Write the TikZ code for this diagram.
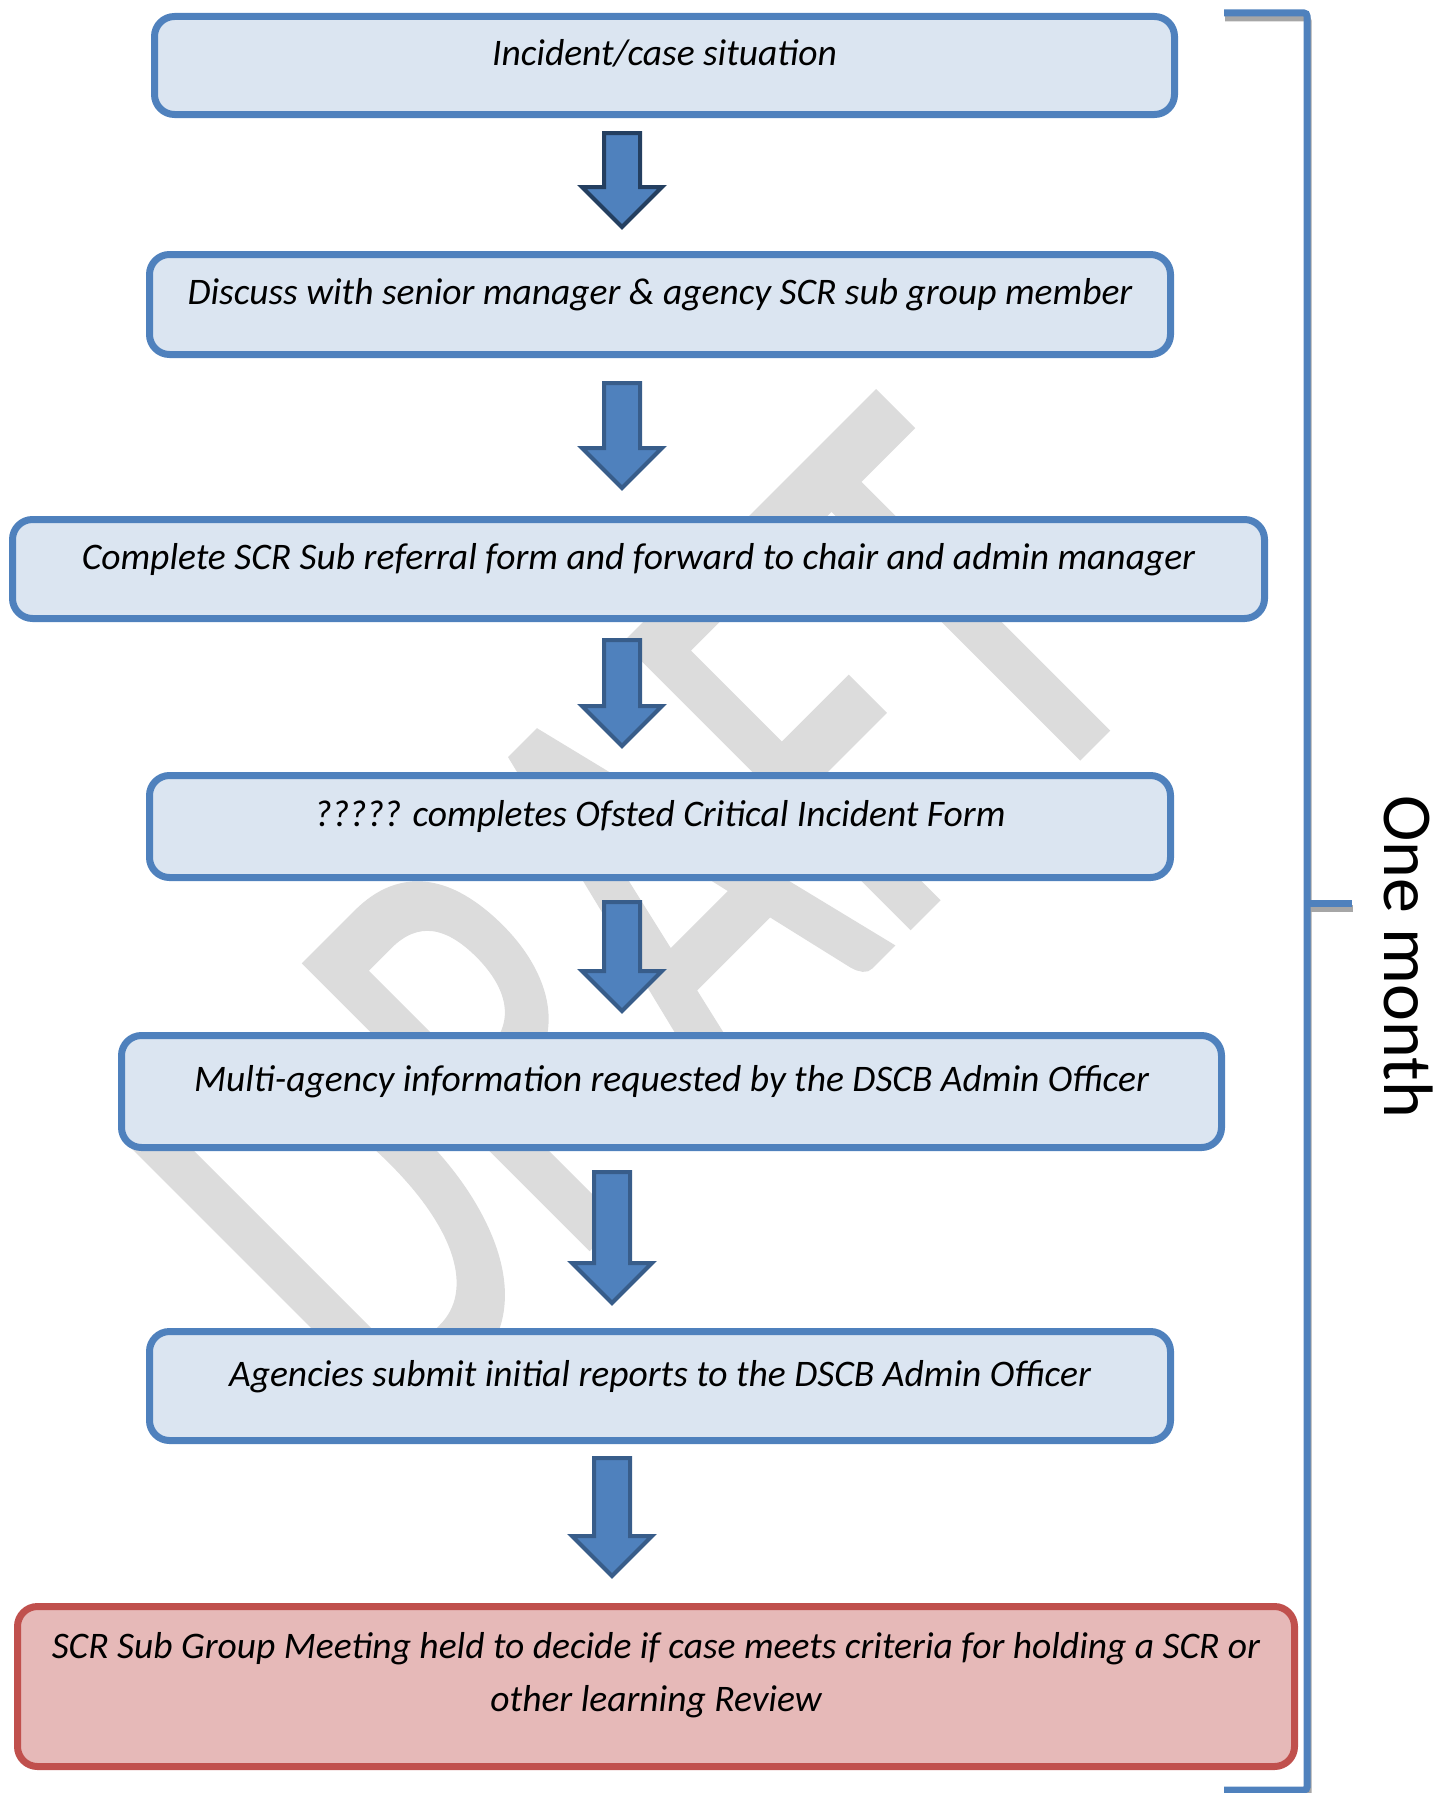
\documentclass[tikz,border=0pt]{standalone}
\usepackage{fontspec}
\setmainfont{Carlito}
\newfontfamily\draftfont[FakeBold=1.5]{Carlito}
\usetikzlibrary{calc}

\definecolor{boxline}{HTML}{4F81BD}
\definecolor{boxfill}{HTML}{DBE5F1}
\definecolor{endline}{HTML}{C0504D}
\definecolor{endfill}{HTML}{E6B9B8}
\definecolor{arrowline}{HTML}{385D8A}
\definecolor{arrowdark}{HTML}{243F60}
\definecolor{draftgray}{HTML}{DCDCDC}
\definecolor{shadowgray}{HTML}{A6A6A6}

\tikzset{
  stepbox/.style={draw=boxline, fill=boxfill, line width=7pt, rounded corners=20pt,
    font=\fontsize{37.5}{53}\selectfont\itshape, text height=14pt, text depth=14pt,
    inner sep=0pt, align=center},
  endbox/.style={stepbox, draw=endline, fill=endfill},
  blockarrow/.style={fill=boxline, line width=4pt, line join=miter},
  bracketline/.style={draw=boxline, line width=7pt, rounded corners=3pt}
}

% block arrow: axis, from box, to box, gap below, gap above, outline colour
\newcommand{\flowarrow}[6]{%
  \coordinate (#2-top) at ($(#2.south -| #1)+(0,-#4)$);
  \coordinate (#2-tip) at ($(#3.north -| #1)+(0,#5)$);
  \draw[blockarrow, draw=#6] ($(#2-top)+(-18,0)$) -- ($(#2-top)+(18,0)$)
    -- ($(#2-tip)+(18,40)$) -- ($(#2-tip)+(40,40)$) -- (#2-tip)
    -- ($(#2-tip)+(-40,40)$) -- ($(#2-tip)+(-18,40)$) -- cycle;
}

\begin{document}
\begin{tikzpicture}[x=1pt, y=1pt]
  \useasboundingbox (0,0) rectangle (1437,-1793);

  % Watermark behind everything
  \node[text=draftgray, font=\fontsize{620}{620}\selectfont\draftfont, inner sep=0pt,
    rotate=45, xscale=0.655, transform shape] (draft) at (636,-917) {DRAFT};

  % The steps
  \node[stepbox, minimum width=1020pt, minimum height=98pt] (b1) at (664.5,-65.5)
    {Incident/case situation};
  \node[stepbox, minimum width=1021pt, minimum height=100pt] (b2) at (660,-304.5)
    {Discuss with senior manager \& agency SCR sub group member};
  \node[stepbox, minimum width=1252pt, minimum height=99pt] (b3) at (638.5,-569)
    {Complete SCR Sub referral form and forward to chair and admin manager};
  \node[stepbox, minimum width=1021pt, minimum height=102pt] (b4) at (660,-826.5)
    {????? completes Ofsted Critical Incident Form};
  \node[stepbox, minimum width=1100pt, minimum height=112pt] (b5) at (671.5,-1091.5)
    {Multi-agency information requested by the DSCB Admin Officer};
  \node[stepbox, minimum width=1021pt, minimum height=109pt] (b6) at (660,-1386)
    {Agencies submit initial reports to the DSCB Admin Officer};
  \node[endbox, minimum width=1277pt, minimum height=160pt, text height=63pt, text depth=14pt]
    (b7) at (656,-1686.5)
    {SCR Sub Group Meeting held to decide if case meets criteria for holding a SCR or\\
     other learning Review};

  % Arrows between the steps
  \coordinate (axisA) at (622,0);
  \coordinate (axisB) at (612,0);
  \foreach \ax/\from/\to/\ga/\gb/\col in {axisA/b1/b2/15/24/arrowdark,
      axisA/b2/b3/25/28/arrowline, axisA/b3/b4/18/26/arrowline,
      axisA/b4/b5/21/21/arrowline, axisB/b5/b6/21/25/arrowline,
      axisB/b6/b7/14/27/arrowline} {
    \flowarrow{\ax}{\from}{\to}{\ga}{\gb}{\col}
  }

  % Bracket on the right
  \coordinate (brtop) at (1224,-13);
  \coordinate (brcorner) at (1307,-13);
  \coordinate (brbottom) at (1307,-1790);
  \coordinate (brend) at (1224,-1790);
  \coordinate (brtick) at (1307,-903);
  \coordinate (brtickend) at (1352,-903);
  \begin{scope}[transform canvas={shift={(1pt,-5pt)}}]
    \draw[bracketline, draw=shadowgray] (brtop) -- (brcorner) -- (brbottom) -- (brend);
    \draw[bracketline, draw=shadowgray] (brtick) -- (brtickend);
  \end{scope}
  \draw[bracketline] (brtop) -- (brcorner) -- (brbottom) -- (brend);
  \draw[bracketline] (brtick) -- (brtickend);

  \node[rotate=-90, anchor=base, font=\fontsize{70}{84}\selectfont] (month) at (1384,-956.5)
    {One month};
\end{tikzpicture}
\end{document}
